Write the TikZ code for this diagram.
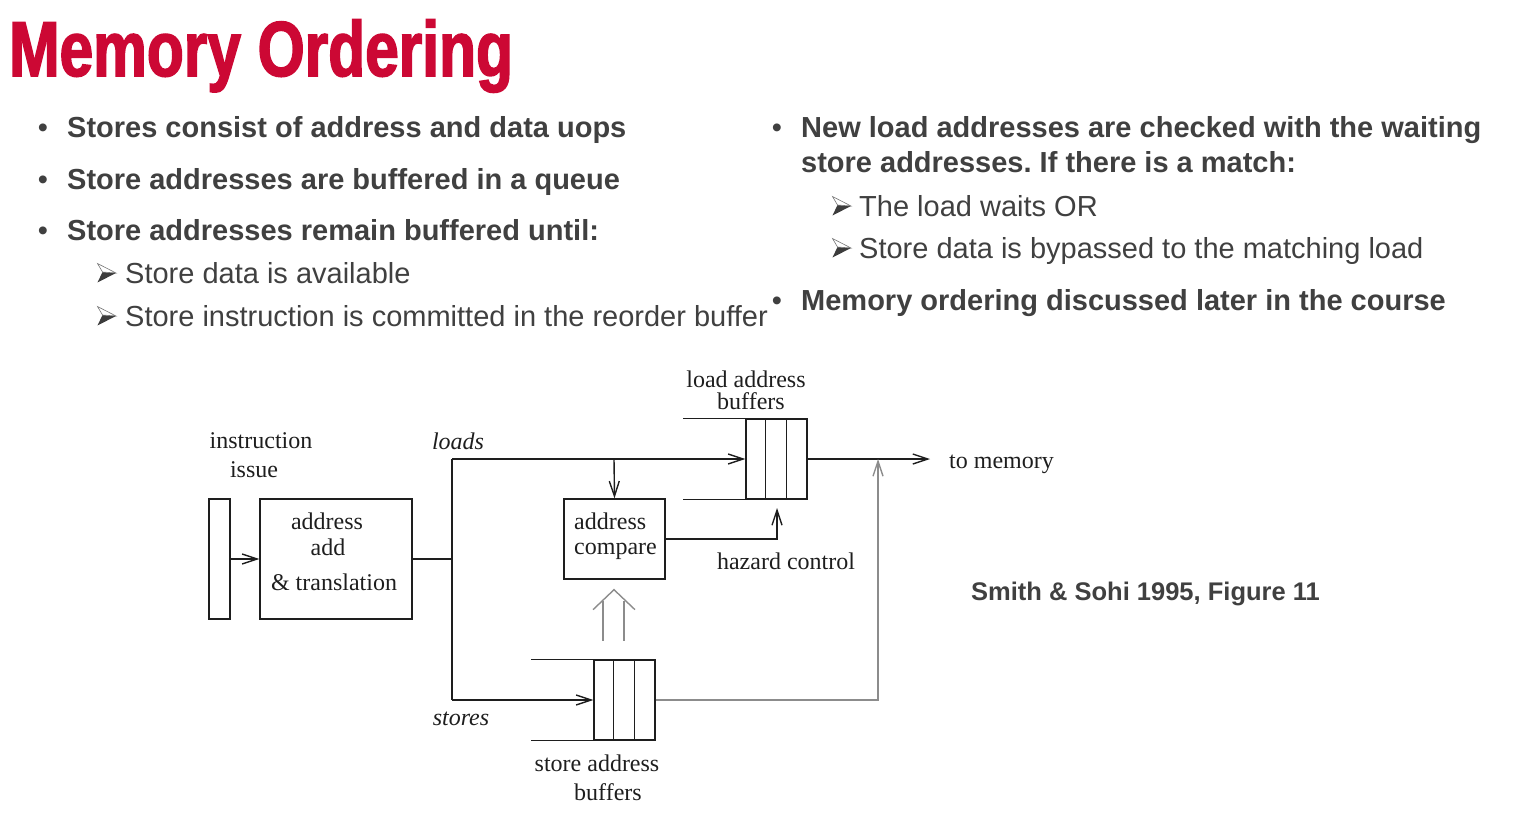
\documentclass[tikz,border=0pt]{standalone}
\usepackage{fontspec}
\setmainfont{Liberation Sans}
\newfontfamily\titlefont[FakeStretch=0.775,FakeBold=2]{Liberation Sans}
\newfontfamily\figfont{Liberation Serif}
\usetikzlibrary{arrows.meta}
\definecolor{titlered}{RGB}{204,8,52}
\definecolor{bodygray}{RGB}{64,64,64}
\definecolor{markgray}{RGB}{60,60,60}
\definecolor{storegray}{RGB}{140,140,140}
\definecolor{ink}{RGB}{30,30,30}
\frenchspacing

\begin{document}
\begin{tikzpicture}[x=1pt,y=-1pt,
  bodybold/.style={anchor=base west, inner sep=0, text=bodygray, font=\fontsize{29}{30}\selectfont\bfseries},
  bodyreg/.style={anchor=base west, inner sep=0, text=bodygray, font=\fontsize{29}{30}\selectfont},
  dot/.style={anchor=base, inner sep=0, text=bodygray, font=\fontsize{29}{30}\selectfont},
  lbl/.style={inner sep=0, text=ink, font=\figfont\fontsize{24}{24}\selectfont},
  wire/.style={line width=1.4pt, draw=ink},
  gwire/.style={line width=1.4pt, draw=storegray},
  tip/.style={-{Straight Barb[length=15pt,width=10pt]}},
  unit/.style={draw=ink, line width=1.4pt, inner sep=0}
]
\useasboundingbox (0,0) rectangle (1518,816);

% sub-level marker: a shaded arrowhead, lit on top and dark below
\newcommand{\submark}[1]{%
  \begin{scope}[shift={#1}]
    \fill[markgray] (0.5,9.5) -- (19,0) -- (5.5,-1) -- cycle;
    \draw[markgray!70, line width=0.6pt, fill=white] (0.5,-9.5) -- (19,0) -- (5.5,-1) -- cycle;
  \end{scope}}

% ---- heading
\node[anchor=base west, inner sep=0, text=titlered,
      font=\titlefont\bfseries\fontsize{78}{80}\selectfont] (title) at (9,76) {Memory Ordering};

% ---- left column
\node[dot] (b1) at (43,137) {•};
\node[bodybold] (t1) at (67,137) {Stores consist of address and data uops};
\node[dot] (b2) at (43,189) {•};
\node[bodybold] (t2) at (67,189) {Store addresses are buffered in a queue};
\node[dot] (b3) at (43,240) {•};
\node[bodybold] (t3) at (67,240) {Store addresses remain buffered until:};
\submark{(97,273)}
\node[bodyreg] (u1) at (125,283) {Store data is available};
\submark{(97,316)}
\node[bodyreg] (u2) at (125,326) {Store instruction is committed in the reorder buffer};

% ---- right column
\node[dot] (b4) at (777,137) {•};
\node[bodybold] (t4) at (801,137) {New load addresses are checked with the waiting};
\node[bodybold] (t5) at (801,172) {store addresses. If there is a match:};
\submark{(832,206)}
\node[bodyreg] (u3) at (859,216) {The load waits OR};
\submark{(832,248)}
\node[bodyreg] (u4) at (859,258) {Store data is bypassed to the matching load};
\node[dot] (b5) at (777,310) {•};
\node[bodybold] (t6) at (801,310) {Memory ordering discussed later in the course};

\node[anchor=base west, inner sep=0, text=bodygray, font=\fontsize{25.5}{27}\selectfont\bfseries]
  (cite) at (971,600) {Smith \& Sohi 1995, Figure 11};

% ---- datapath blocks
\node[unit, minimum width=21pt, minimum height=120pt] (issue) at (219.5,559) {};
\node[unit, minimum width=152pt, minimum height=120pt] (aat) at (336,559) {};
\node[unit, minimum width=101pt, minimum height=80pt] (cmp) at (614.5,539) {};
\node[unit, minimum width=61pt, minimum height=80pt] (lab) at (776.5,459) {};
\node[unit, minimum width=61pt, minimum height=80pt] (sab) at (624.5,700) {};

% buffer slots and open queue sides
\draw[wire] ([xshift=20pt]lab.north west) -- ([xshift=20pt]lab.south west)
            ([xshift=41pt]lab.north west) -- ([xshift=41pt]lab.south west)
            (lab.north west) -- ++(-62,0)
            (lab.south west) -- ++(-62,0);
\draw[wire] ([xshift=20pt]sab.north west) -- ([xshift=20pt]sab.south west)
            ([xshift=41pt]sab.north west) -- ([xshift=41pt]sab.south west)
            (sab.north west) -- ++(-62,0)
            (sab.south west) -- ++(-62,0);

% ---- labels
\node[lbl] (iss1) at (261,441) {instruction};
\node[lbl] (iss2) at (254,470) {issue};
\node[lbl] (aat1) at (327,521) {address};
\node[lbl] (aat2) at (328,547) {add};
\node[lbl] (aat3) at (334,582) {\& translation};
\node[lbl, anchor=west] (cmp1) at (574,521) {address};
\node[lbl, anchor=west] (cmp2) at (574,551) {compare};
\node[lbl] (lab1) at (746,379) {load address};
\node[lbl] (lab2) at (751,401) {buffers};
\node[lbl] (sab1) at (597,763) {store address};
\node[lbl] (sab2) at (608,792) {buffers};
\node[lbl] (hz) at (786,561) {hazard control};
\node[lbl, anchor=west] (memlbl) at (949,464) {to memory};
\node[lbl, font=\figfont\itshape\fontsize{24}{24}\selectfont] (ldl) at (458,441) {loads};
\node[lbl, font=\figfont\itshape\fontsize{24}{24}\selectfont] (stl) at (461,719) {stores};

% ---- routing points
\coordinate (split) at (452,559);
\coordinate (ltop) at (452,459);
\coordinate (lbot) at (452,700);
\coordinate (tap) at (614,459);
\coordinate (mem) at (930,459);
\coordinate (join) at (878,459);
\coordinate (hzend) at (777,508);

% ---- connectors
\draw[wire, tip] (issue.east) -- (aat.west);
\draw[wire] (aat.east) -- (split);
\draw[wire] (ltop) -- (lbot);
\draw[wire, tip] (ltop) -- (lab.west);
\draw[wire, tip] (tap) -- (cmp.north);
\draw[wire, tip] (lbot) -- (sab.west);
\draw[wire, tip] (lab.east) -- (mem);
\draw[wire, tip] (cmp.east) -| (hzend);
\draw[gwire, tip] (sab.east) -| (join);

% store addresses fed up to the comparator (double-shafted arrow)
\draw[gwire] ([shift={(-11.5,61)}]cmp.south) -- ([shift={(-11.5,21)}]cmp.south)
             ([shift={(9.5,61)}]cmp.south) -- ([shift={(9.5,21)}]cmp.south);
\draw[gwire] ([shift={(-21.5,30)}]cmp.south) -- ([shift={(-0.5,10)}]cmp.south)
             -- ([shift={(20.5,30)}]cmp.south);
\end{tikzpicture}
\end{document}
